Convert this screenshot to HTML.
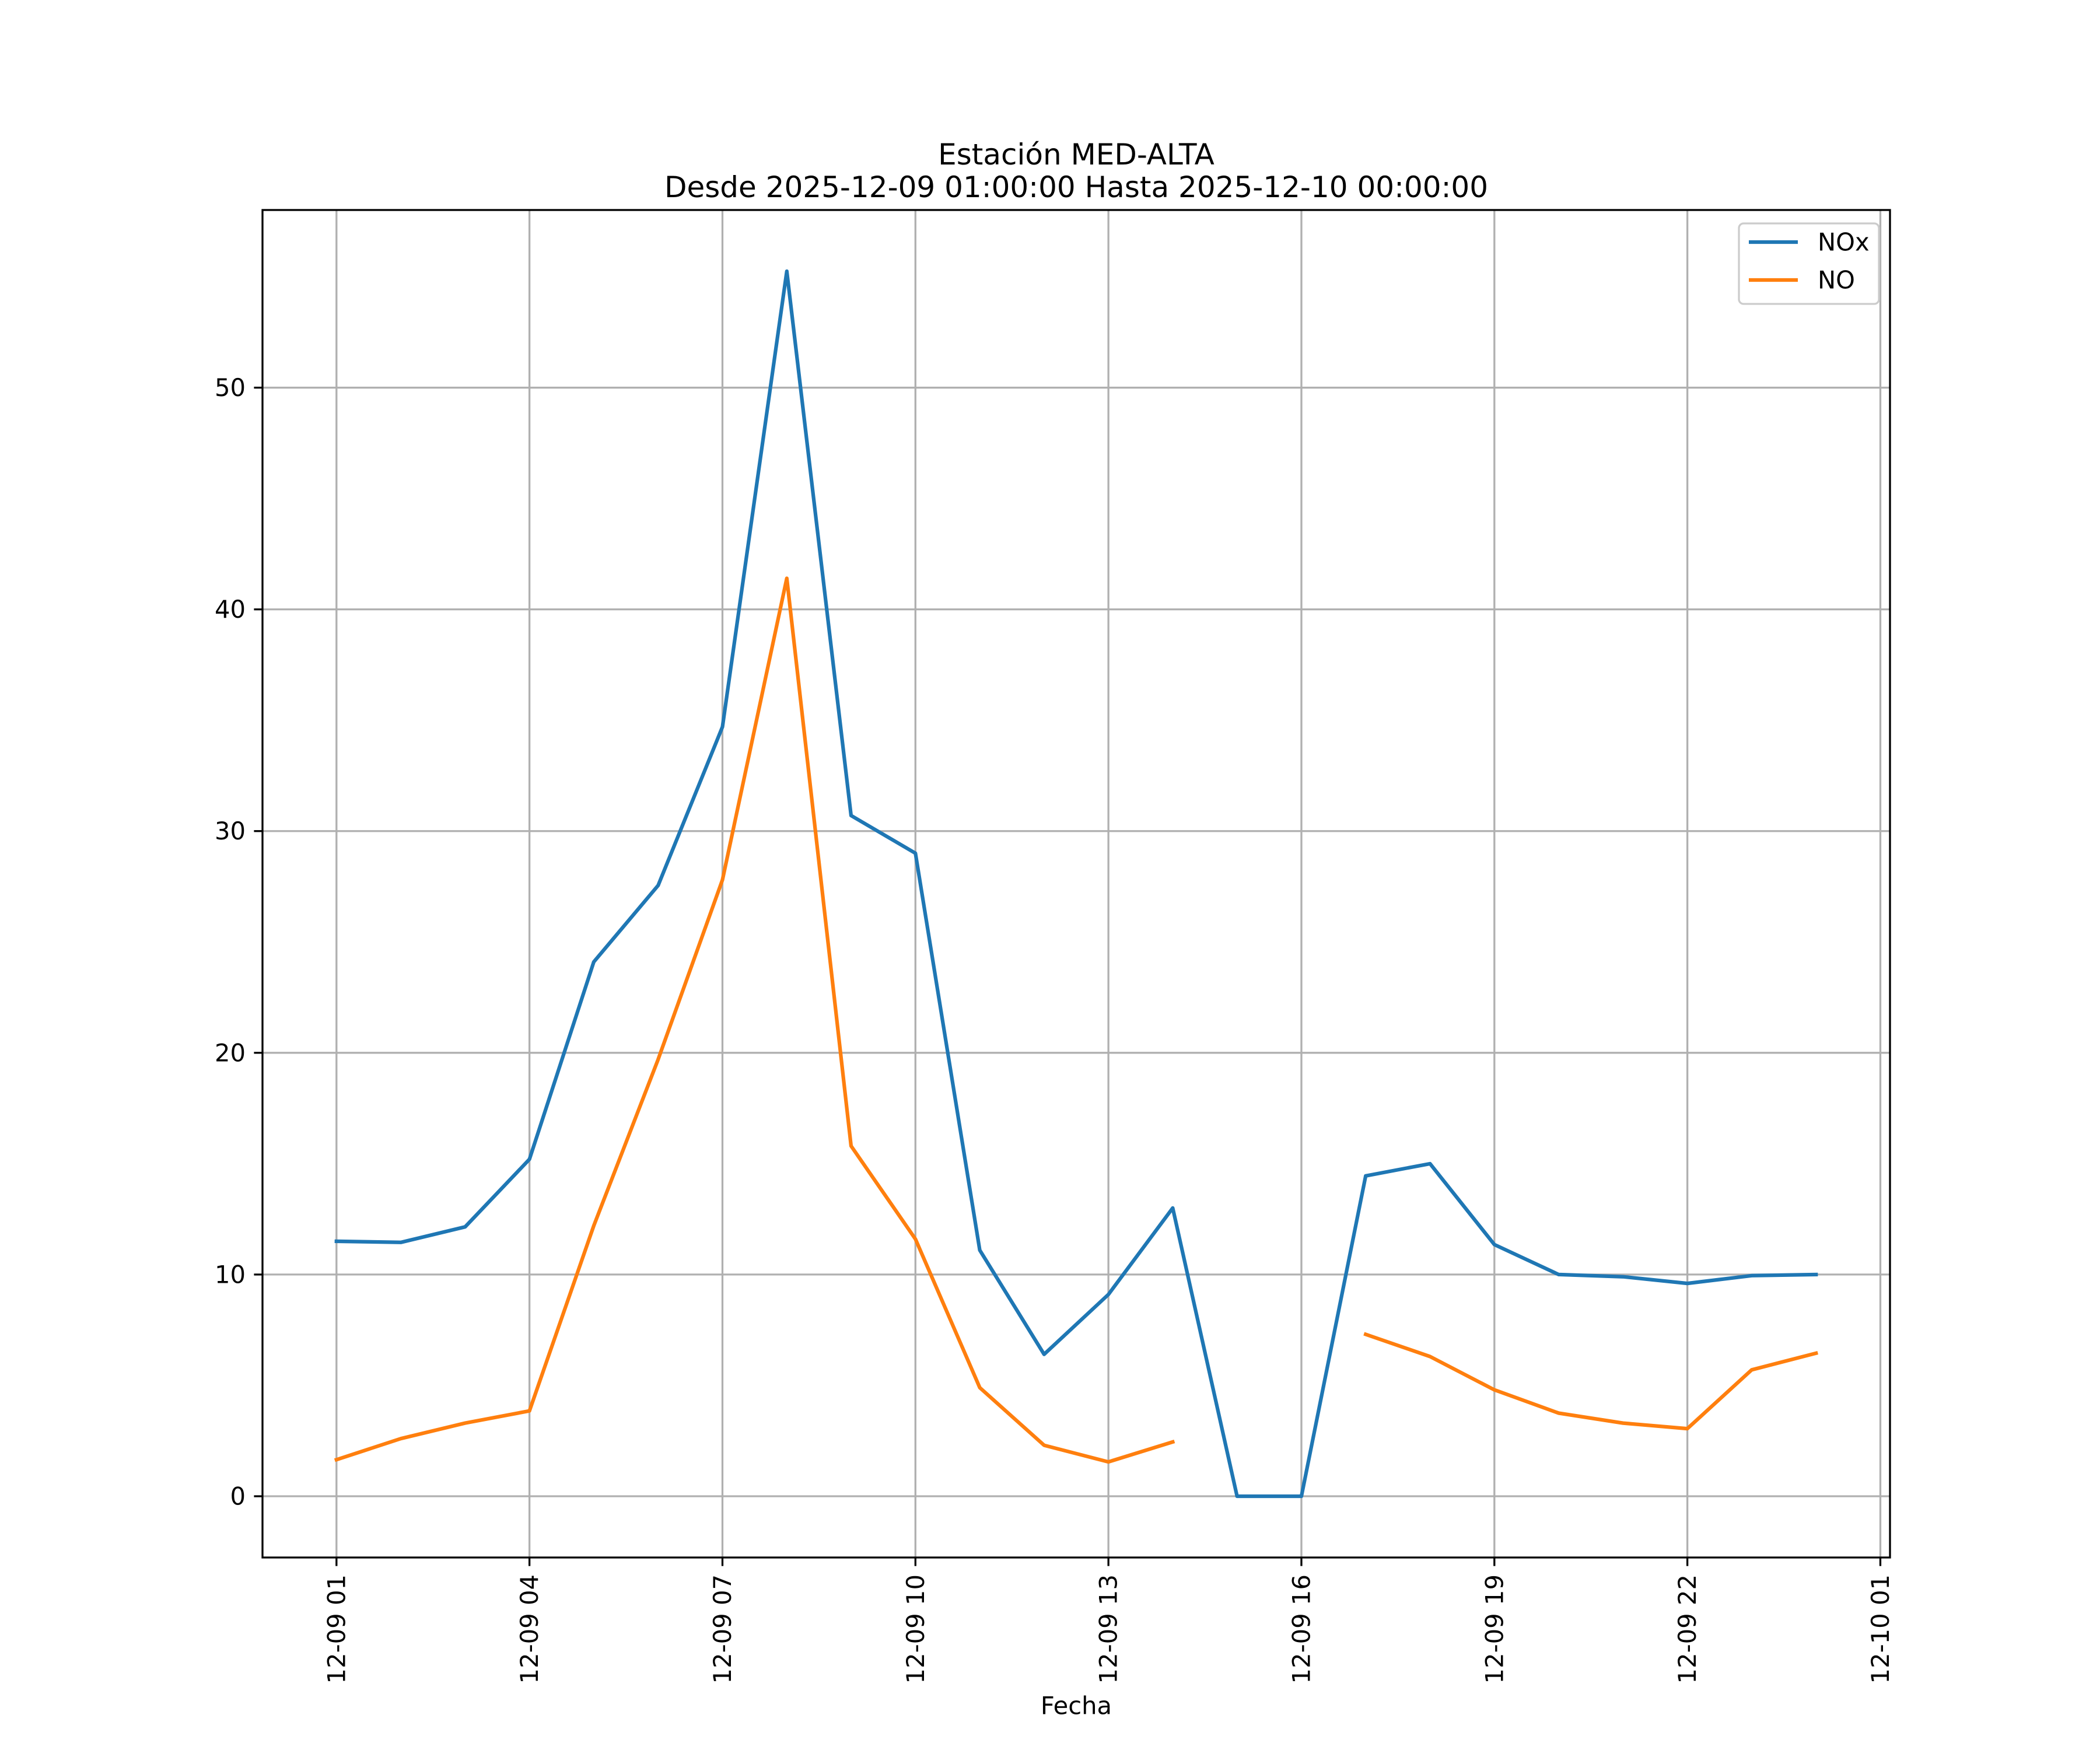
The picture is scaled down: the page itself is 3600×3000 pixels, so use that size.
<!DOCTYPE html>
<html><head><meta charset="utf-8"><style>html,body{margin:0;padding:0;background:#fff}svg{display:block}</style></head>
<body>
<svg id="chart" width="3600" height="3000" xmlns="http://www.w3.org/2000/svg" font-family="'DejaVu Sans','Liberation Sans',sans-serif"></svg>
<script>
const hours = [1,2,3,4,5,6,7,8,9,10,11,12,13,14,15,16,17,18,19,20,21,22,23,24];
const noxValues = [11.5,11.45,12.15,15.2,24.1,27.55,34.7,55.25,30.7,29.0,11.1,6.4,9.1,13.0,0,0,14.45,15.0,11.35,10.0,9.9,9.6,9.95,10.0];
const noValues = [1.65,2.6,3.3,3.85,12.2,19.7,27.8,41.4,15.8,11.6,4.9,2.3,1.55,2.45,null,null,7.3,6.3,4.8,3.75,3.3,3.05,5.7,6.45];
const xTickHours = [1,4,7,10,13,16,19,22,25];
const xTickLabels = ["12-09 01","12-09 04","12-09 07","12-09 10","12-09 13","12-09 16","12-09 19","12-09 22","12-10 01"];
const yTicks = [0,10,20,30,40,50];

const L=450,R=3240,T=360,B=2670;
const xmin=1-1.15,xmax=24+1.15,ymin=-2.7625,ymax=58.0125;
const X=h=>L+(h-xmin)/(xmax-xmin)*(R-L);
const Y=v=>B-(v-ymin)/(ymax-ymin)*(B-T);
const svg=document.getElementById('chart');
const NS='http://www.w3.org/2000/svg';
function mk(tag,attrs,parent){const e=document.createElementNS(NS,tag);for(const k in attrs)e.setAttribute(k,attrs[k]);(parent||svg).appendChild(e);return e;}

xTickHours.forEach((h,i)=>{
  const x=X(h);
  const g=mk('line',{x1:x,x2:x,y1:T,y2:B,stroke:'#b0b0b0','stroke-width':3.3});
  
  
  const t=mk('line',{x1:x,x2:x,y1:B,y2:B+14.6,stroke:'#000','stroke-width':3.3});
  
  
  const lb=mk('text',{x:x,y:B+29,'font-size':41.7,'text-anchor':'end','dominant-baseline':'central',transform:`rotate(-90 ${x} ${B+29})`});
  lb.textContent=xTickLabels[i];
  
  
});
yTicks.forEach(v=>{
  const y=Y(v);
  const g=mk('line',{x1:L,x2:R,y1:y,y2:y,stroke:'#b0b0b0','stroke-width':3.3});
  
  
  const t=mk('line',{x1:L-14.6,x2:L,y1:y,y2:y,stroke:'#000','stroke-width':3.3});
  
  
  const lb=mk('text',{x:L-29,y:y,'font-size':41.7,'text-anchor':'end','dominant-baseline':'central'});
  lb.textContent=v;
  
  
});

function series(vals,color,name){
  let d='',pen=false;
  vals.forEach((v,i)=>{
    if(v===null){pen=false;return;}
    d+=(pen?'L':'M')+X(hours[i]).toFixed(1)+' '+Y(v).toFixed(1)+' ';pen=true;
  });
  const p=mk('path',{d:d,fill:'none',stroke:color,'stroke-width':6.25,'stroke-linejoin':'round','stroke-linecap':'square'});
  
  
}
series(noxValues,'#1f77b4','nox-line');
series(noValues,'#ff7f0e','no-line');

const frame=mk('rect',{x:L,y:T,width:R-L,height:B-T,fill:'none',stroke:'#000','stroke-width':3.3});



const lg=mk('g',{});


mk('rect',{x:2981,y:383,width:240,height:138,rx:8,fill:'#fff','fill-opacity':0.8,stroke:'#ccc','stroke-width':3.3},lg);
[['NOx','#1f77b4',415],['NO','#ff7f0e',480]].forEach(([n,c,y])=>{
  const e=mk('g',{},lg);
  
  
  mk('line',{x1:2998,x2:3082,y1:y,y2:y,stroke:c,'stroke-width':6.25},e);
  const t=mk('text',{x:3116,y:y,'font-size':41.7,'dominant-baseline':'central'},e);
  t.textContent=n;
});

const t1=mk('text',{x:1845,y:265,'font-size':50,'text-anchor':'middle','dominant-baseline':'central'});
t1.textContent='Estación MED-ALTA';


const t2=mk('text',{x:1845,y:321,'font-size':50,'text-anchor':'middle','dominant-baseline':'central'});
t2.textContent='Desde 2025-12-09 01:00:00 Hasta 2025-12-10 00:00:00';


const xl=mk('text',{x:1845,y:2924,'font-size':41.7,'text-anchor':'middle','dominant-baseline':'central'});
xl.textContent='Fecha';


</script>
</body></html>
